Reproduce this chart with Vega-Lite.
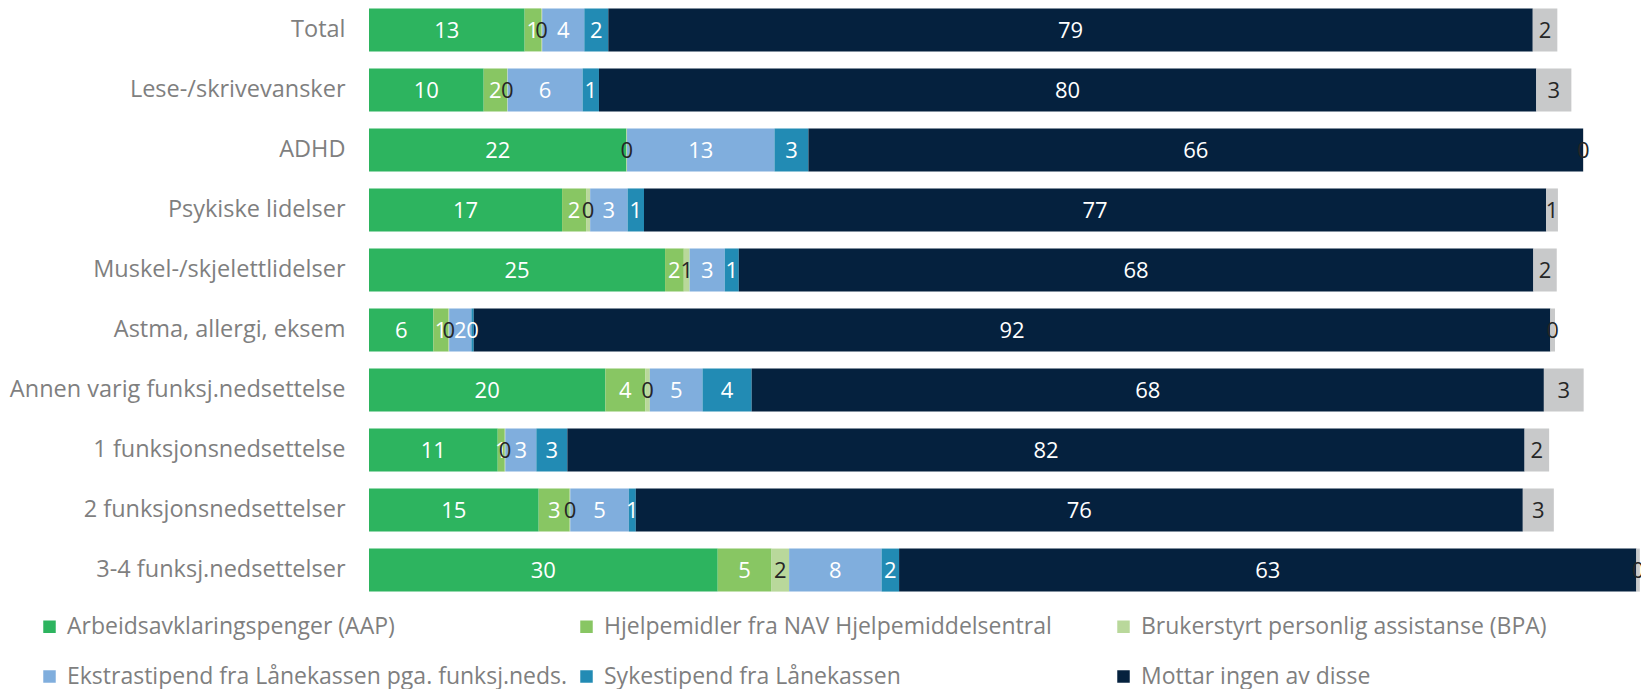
{
  "$schema": "https://vega.github.io/schema/vega-lite/v6.json",
  "autosize": "none",
  "width": 1272,
  "height": 600,
  "padding": {"left": 369, "top": 0, "right": 0, "bottom": 89},
  "background": "white",
  "config": {"view": {"stroke": null}, "font": "Open Sans"},
  "data": {"values": [
    {"g":"Total","s":"Arbeidsavklaringspenger (AAP)","k":1,"v":13.3,"t":"13"},
    {"g":"Total","s":"Hjelpemidler fra NAV Hjelpemiddelsentral","k":2,"v":1.4,"t":"1"},
    {"g":"Total","s":"Brukerstyrt personlig assistanse (BPA)","k":3,"v":0.1,"t":"0"},
    {"g":"Total","s":"Ekstrastipend fra Lånekassen pga. funksj.neds.","k":4,"v":3.6,"t":"4"},
    {"g":"Total","s":"Sykestipend fra Lånekassen","k":5,"v":2.05,"t":"2"},
    {"g":"Total","s":"Mottar ingen av disse","k":6,"v":79.0,"t":"79"},
    {"g":"Total","s":"Vet ikke","k":7,"v":2.1,"t":"2"},

    {"g":"Lese-/skrivevansker","s":"Arbeidsavklaringspenger (AAP)","k":1,"v":9.8,"t":"10"},
    {"g":"Lese-/skrivevansker","s":"Hjelpemidler fra NAV Hjelpemiddelsentral","k":2,"v":2.0,"t":"2"},
    {"g":"Lese-/skrivevansker","s":"Brukerstyrt personlig assistanse (BPA)","k":3,"v":0.05,"t":"0"},
    {"g":"Lese-/skrivevansker","s":"Ekstrastipend fra Lånekassen pga. funksj.neds.","k":4,"v":6.4,"t":"6"},
    {"g":"Lese-/skrivevansker","s":"Sykestipend fra Lånekassen","k":5,"v":1.4,"t":"1"},
    {"g":"Lese-/skrivevansker","s":"Mottar ingen av disse","k":6,"v":80.1,"t":"80"},
    {"g":"Lese-/skrivevansker","s":"Vet ikke","k":7,"v":3.0,"t":"3"},

    {"g":"ADHD","s":"Arbeidsavklaringspenger (AAP)","k":1,"v":22.0,"t":"22"},
    {"g":"ADHD","s":"Hjelpemidler fra NAV Hjelpemiddelsentral","k":2,"v":0,"t":null},
    {"g":"ADHD","s":"Brukerstyrt personlig assistanse (BPA)","k":3,"v":0.05,"t":"0"},
    {"g":"ADHD","s":"Ekstrastipend fra Lånekassen pga. funksj.neds.","k":4,"v":12.6,"t":"13"},
    {"g":"ADHD","s":"Sykestipend fra Lånekassen","k":5,"v":2.9,"t":"3"},
    {"g":"ADHD","s":"Mottar ingen av disse","k":6,"v":66.2,"t":"66"},
    {"g":"ADHD","s":"Vet ikke","k":7,"v":0.05,"t":"0"},

    {"g":"Psykiske lidelser","s":"Arbeidsavklaringspenger (AAP)","k":1,"v":16.5,"t":"17"},
    {"g":"Psykiske lidelser","s":"Hjelpemidler fra NAV Hjelpemiddelsentral","k":2,"v":2.05,"t":"2"},
    {"g":"Psykiske lidelser","s":"Brukerstyrt personlig assistanse (BPA)","k":3,"v":0.35,"t":"0"},
    {"g":"Psykiske lidelser","s":"Ekstrastipend fra Lånekassen pga. funksj.neds.","k":4,"v":3.2,"t":"3"},
    {"g":"Psykiske lidelser","s":"Sykestipend fra Lånekassen","k":5,"v":1.4,"t":"1"},
    {"g":"Psykiske lidelser","s":"Mottar ingen av disse","k":6,"v":77.1,"t":"77"},
    {"g":"Psykiske lidelser","s":"Vet ikke","k":7,"v":1.0,"t":"1"},

    {"g":"Muskel-/skjelettlidelser","s":"Arbeidsavklaringspenger (AAP)","k":1,"v":25.3,"t":"25"},
    {"g":"Muskel-/skjelettlidelser","s":"Hjelpemidler fra NAV Hjelpemiddelsentral","k":2,"v":1.6,"t":"2"},
    {"g":"Muskel-/skjelettlidelser","s":"Brukerstyrt personlig assistanse (BPA)","k":3,"v":0.5,"t":"1"},
    {"g":"Muskel-/skjelettlidelser","s":"Ekstrastipend fra Lånekassen pga. funksj.neds.","k":4,"v":3.0,"t":"3"},
    {"g":"Muskel-/skjelettlidelser","s":"Sykestipend fra Lånekassen","k":5,"v":1.2,"t":"1"},
    {"g":"Muskel-/skjelettlidelser","s":"Mottar ingen av disse","k":6,"v":67.9,"t":"68"},
    {"g":"Muskel-/skjelettlidelser","s":"Vet ikke","k":7,"v":2.0,"t":"2"},

    {"g":"Astma, allergi, eksem","s":"Arbeidsavklaringspenger (AAP)","k":1,"v":5.5,"t":"6"},
    {"g":"Astma, allergi, eksem","s":"Hjelpemidler fra NAV Hjelpemiddelsentral","k":2,"v":1.3,"t":"1"},
    {"g":"Astma, allergi, eksem","s":"Brukerstyrt personlig assistanse (BPA)","k":3,"v":0.05,"t":"0"},
    {"g":"Astma, allergi, eksem","s":"Ekstrastipend fra Lånekassen pga. funksj.neds.","k":4,"v":1.9,"t":"2"},
    {"g":"Astma, allergi, eksem","s":"Sykestipend fra Lånekassen","k":5,"v":0.2,"t":"0"},
    {"g":"Astma, allergi, eksem","s":"Mottar ingen av disse","k":6,"v":92.0,"t":"92"},
    {"g":"Astma, allergi, eksem","s":"Vet ikke","k":7,"v":0.4,"t":"0"},

    {"g":"Annen varig funksj.nedsettelse","s":"Arbeidsavklaringspenger (AAP)","k":1,"v":20.2,"t":"20"},
    {"g":"Annen varig funksj.nedsettelse","s":"Hjelpemidler fra NAV Hjelpemiddelsentral","k":2,"v":3.4,"t":"4"},
    {"g":"Annen varig funksj.nedsettelse","s":"Brukerstyrt personlig assistanse (BPA)","k":3,"v":0.4,"t":"0"},
    {"g":"Annen varig funksj.nedsettelse","s":"Ekstrastipend fra Lånekassen pga. funksj.neds.","k":4,"v":4.5,"t":"5"},
    {"g":"Annen varig funksj.nedsettelse","s":"Sykestipend fra Lånekassen","k":5,"v":4.2,"t":"4"},
    {"g":"Annen varig funksj.nedsettelse","s":"Mottar ingen av disse","k":6,"v":67.7,"t":"68"},
    {"g":"Annen varig funksj.nedsettelse","s":"Vet ikke","k":7,"v":3.4,"t":"3"},

    {"g":"1 funksjonsnedsettelse\u00a0","s":"Arbeidsavklaringspenger (AAP)","k":1,"v":11.0,"t":"11"},
    {"g":"1 funksjonsnedsettelse\u00a0","s":"Hjelpemidler fra NAV Hjelpemiddelsentral","k":2,"v":0.6,"t":"1"},
    {"g":"1 funksjonsnedsettelse\u00a0","s":"Brukerstyrt personlig assistanse (BPA)","k":3,"v":0.05,"t":"0"},
    {"g":"1 funksjonsnedsettelse\u00a0","s":"Ekstrastipend fra Lånekassen pga. funksj.neds.","k":4,"v":2.65,"t":"3"},
    {"g":"1 funksjonsnedsettelse\u00a0","s":"Sykestipend fra Lånekassen","k":5,"v":2.65,"t":"3"},
    {"g":"1 funksjonsnedsettelse\u00a0","s":"Mottar ingen av disse","k":6,"v":81.8,"t":"82"},
    {"g":"1 funksjonsnedsettelse\u00a0","s":"Vet ikke","k":7,"v":2.1,"t":"2"},

    {"g":"2 funksjonsnedsettelser","s":"Arbeidsavklaringspenger (AAP)","k":1,"v":14.5,"t":"15"},
    {"g":"2 funksjonsnedsettelser","s":"Hjelpemidler fra NAV Hjelpemiddelsentral","k":2,"v":2.65,"t":"3"},
    {"g":"2 funksjonsnedsettelser","s":"Brukerstyrt personlig assistanse (BPA)","k":3,"v":0.05,"t":"0"},
    {"g":"2 funksjonsnedsettelser","s":"Ekstrastipend fra Lånekassen pga. funksj.neds.","k":4,"v":5.0,"t":"5"},
    {"g":"2 funksjonsnedsettelser","s":"Sykestipend fra Lånekassen","k":5,"v":0.6,"t":"1"},
    {"g":"2 funksjonsnedsettelser","s":"Mottar ingen av disse","k":6,"v":75.8,"t":"76"},
    {"g":"2 funksjonsnedsettelser","s":"Vet ikke","k":7,"v":2.65,"t":"3"},

    {"g":"3-4 funksj.nedsettelser","s":"Arbeidsavklaringspenger (AAP)","k":1,"v":29.8,"t":"30"},
    {"g":"3-4 funksj.nedsettelser","s":"Hjelpemidler fra NAV Hjelpemiddelsentral","k":2,"v":4.6,"t":"5"},
    {"g":"3-4 funksj.nedsettelser","s":"Brukerstyrt personlig assistanse (BPA)","k":3,"v":1.5,"t":"2"},
    {"g":"3-4 funksj.nedsettelser","s":"Ekstrastipend fra Lånekassen pga. funksj.neds.","k":4,"v":7.9,"t":"8"},
    {"g":"3-4 funksj.nedsettelser","s":"Sykestipend fra Lånekassen","k":5,"v":1.5,"t":"2"},
    {"g":"3-4 funksj.nedsettelser","s":"Mottar ingen av disse","k":6,"v":63.0,"t":"63"},
    {"g":"3-4 funksj.nedsettelser","s":"Vet ikke","k":7,"v":0.3,"t":"0"}
  ]},
  "transform": [
    {"stack": "v", "groupby": ["g"], "sort": [{"field": "k"}], "as": ["v0", "v1"]},
    {"calculate": "(datum.v0 + datum.v1) / 2", "as": "mid"}
  ],
  "encoding": {
    "y": {
      "field": "g", "type": "nominal", "sort": null, "title": null,
      "scale": {"paddingInner": 0.283, "paddingOuter": 0.14},
      "axis": {"domain": false, "ticks": false, "labelFontSize": 23.5, "labelColor": "#7F7F7F", "labelPadding": 24, "labelLimit": 400, "labelFont": "Open Sans"}
    }
  },
  "layer": [
    {
      "mark": {"type": "bar", "clip": true},
      "encoding": {
        "x": {"field": "v0", "type": "quantitative", "scale": {"domain": [0, 108.7], "nice": false}, "axis": null},
        "x2": {"field": "v1"},
        "color": {
          "field": "s", "type": "nominal", "title": null,
          "scale": {
            "domain": ["Arbeidsavklaringspenger (AAP)", "Hjelpemidler fra NAV Hjelpemiddelsentral", "Brukerstyrt personlig assistanse (BPA)", "Ekstrastipend fra Lånekassen pga. funksj.neds.", "Sykestipend fra Lånekassen", "Mottar ingen av disse", "Vet ikke"],
            "range": ["#2DB45F", "#88C663", "#B9D89B", "#80AEDD", "#228BB4", "#05213E", "#C8C9CA"]
          },
          "legend": {
            "values": ["Arbeidsavklaringspenger (AAP)", "Hjelpemidler fra NAV Hjelpemiddelsentral", "Brukerstyrt personlig assistanse (BPA)", "Ekstrastipend fra Lånekassen pga. funksj.neds.", "Sykestipend fra Lånekassen", "Mottar ingen av disse"],
            "orient": "none", "legendX": -331, "legendY": 615,
            "direction": "horizontal", "columns": 3, "gridAlign": "all",
            "symbolType": "square", "symbolSize": 156, "symbolStrokeWidth": 0,
            "labelFontSize": 23, "labelColor": "#7F7F7F", "labelFont": "Open Sans", "labelLimit": 600, "labelOffset": 6,
            "columnPadding": 7, "rowPadding": 26
          }
        }
      }
    },
    {
      "mark": {"type": "text", "fontSize": 22, "font": "Open Sans", "align": "center", "baseline": "middle", "dy": 1},
      "transform": [{"filter": "datum.t != null"}],
      "encoding": {
        "x": {"field": "mid", "type": "quantitative"},
        "text": {"field": "t"},
        "color": {
          "field": "s", "type": "nominal", "legend": null,
          "scale": {
            "domain": ["Arbeidsavklaringspenger (AAP)", "Hjelpemidler fra NAV Hjelpemiddelsentral", "Brukerstyrt personlig assistanse (BPA)", "Ekstrastipend fra Lånekassen pga. funksj.neds.", "Sykestipend fra Lånekassen", "Mottar ingen av disse", "Vet ikke"],
            "range": ["#FFFFFF", "#FFFFFF", "#262626", "#FFFFFF", "#FFFFFF", "#FFFFFF", "#262626"]
          }
        }
      }
    }
  ],
  "resolve": {"scale": {"color": "independent"}}
}
